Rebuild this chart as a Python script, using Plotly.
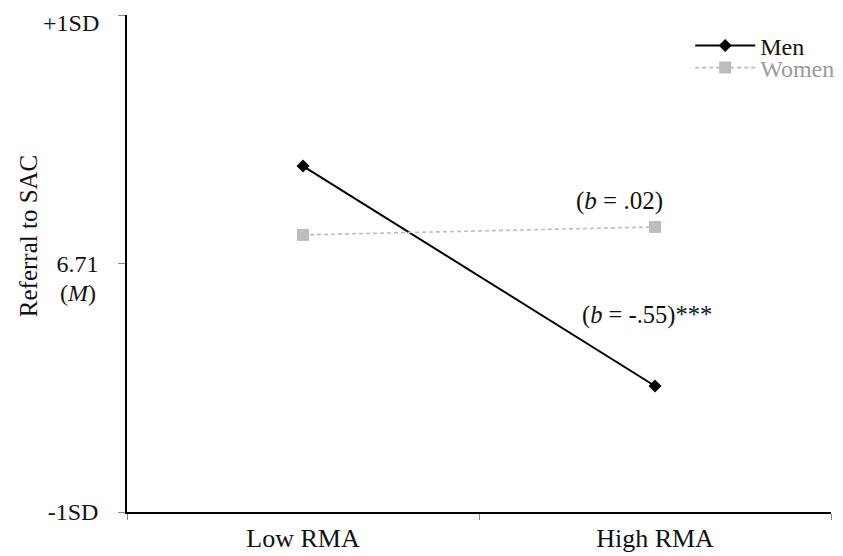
import plotly.graph_objects as go

categories = ["Low RMA", "High RMA"]
men = [0.392, -0.493]
women = [0.115, 0.147]
ytick_vals = [1, 0, -1]
ytick_text = ["+1SD", "6.71", "-1SD"]

FONT = "Liberation Serif"
FS = 24

fig = go.Figure()
fig.add_trace(go.Scatter(
    x=categories, y=men, name="Men", mode="lines+markers", legend="legend",
    line=dict(color="#000000", width=2),
    marker=dict(symbol="diamond", size=10, color="#000000"),
))
fig.add_trace(go.Scatter(
    x=categories, y=women, name='<span style="color:#9a9a9a">Women</span>', mode="lines+markers",
    legend="legend2",
    line=dict(color="#bdbdbd", width=1.6, dash="4px,3px"),
    marker=dict(symbol="square", size=12, color="#bdbdbd"),
))

fig.add_annotation(x=categories[1], y=women[1], xref="x", yref="y",
                   text="(<i>b</i> = .02)", showarrow=False,
                   xshift=-36, yshift=26, font=dict(family=FONT, size=25, color="#111"))
fig.add_annotation(x=categories[1], y=men[1], xref="x", yref="y",
                   text="(<i>b</i> = -.55)***", showarrow=False,
                   xshift=-8, yshift=71, font=dict(family=FONT, size=24.5, color="#111"))
# top tick label sits just below its tick (kept inside the chart, as in the reference)
fig.add_annotation(x=-0.5, y=ytick_vals[0], xref="x", yref="y",
                   text=ytick_text[0], showarrow=False, xanchor="right", yanchor="middle",
                   xshift=-26, yshift=-8, font=dict(family=FONT, size=FS, color="#111"))
fig.add_annotation(x=-0.5, y=ytick_vals[1], xref="x", yref="y",
                   text="(<i>M</i>)", showarrow=False, xanchor="center", yanchor="middle",
                   xshift=-49, yshift=-29, font=dict(family=FONT, size=FS, color="#111"))
fig.add_annotation(x=-0.1406, y=0.555, xref="paper", yref="paper",
                   text="Referral to SAC", showarrow=False, textangle=-90,
                   xanchor="center", yanchor="middle",
                   font=dict(family=FONT, size=25, color="#111"))

legend_common = dict(xanchor="left", yanchor="middle", bgcolor="rgba(0,0,0,0)",
                     font=dict(family=FONT, size=FS, color="#111"), itemwidth=60)

fig.update_layout(
    width=843, height=556,
    margin=dict(l=119, r=20, t=7, b=52, autoexpand=False),
    paper_bgcolor="white", plot_bgcolor="white",
    font=dict(family=FONT, size=FS, color="#111"),
    showlegend=True,
    legend=dict(x=0.8, y=0.9376, **legend_common),
    legend2=dict(x=0.8, y=0.8934, **legend_common),
    xaxis=dict(type="category", range=[-0.5, 1.5], showgrid=False, zeroline=False,
               showline=True, linecolor="#000", linewidth=1.5, automargin=False,
               ticks="outside", tickson="boundaries", ticklen=6, tickcolor="#888",
               ticklabelstandoff=2, ticklabeloverflow="allow",
               tickfont=dict(family=FONT, size=26, color="#111")),
    yaxis=dict(range=[-1, 1], showgrid=False, zeroline=False,
               showline=True, linecolor="#000", linewidth=1.5, automargin=False,
               tickvals=ytick_vals, ticktext=[""] + ytick_text[1:],
               ticks="outside", ticklen=7, tickcolor="#888",
               ticklabelstandoff=15, ticklabeloverflow="allow",
               tickfont=dict(family=FONT, size=FS, color="#111")),
)

fig.write_html("out.html")
